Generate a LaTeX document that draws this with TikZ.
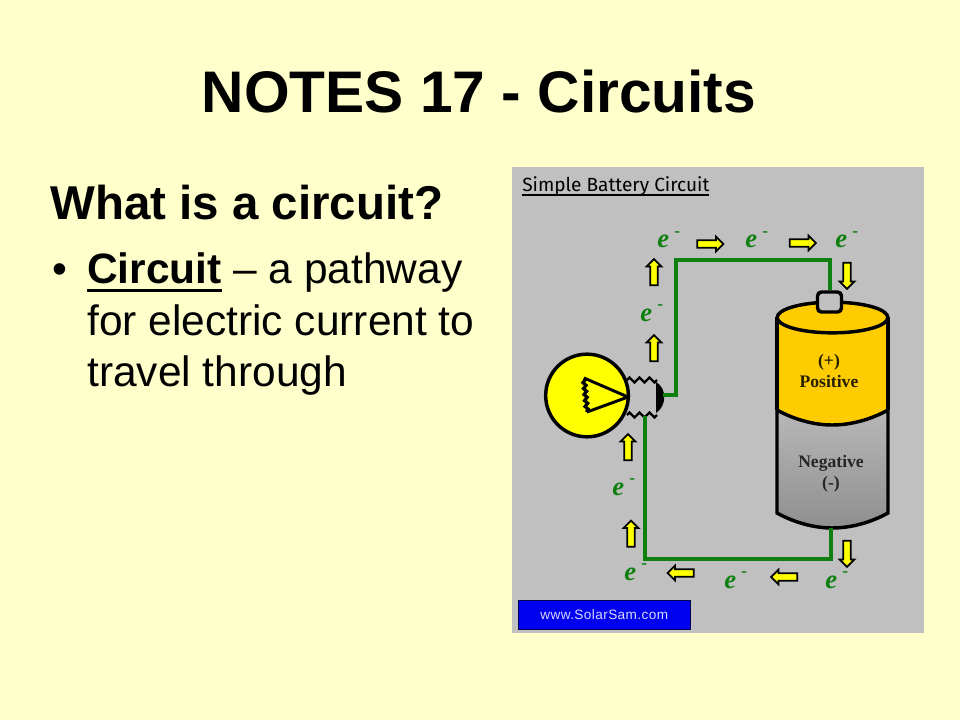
\documentclass[tikz,border=0pt]{standalone}
\usepackage{fontspec}
\setmainfont{Liberation Sans}
\newfontfamily\serifface{Liberation Serif}
\newfontfamily\handface{Fira Sans}
\usetikzlibrary{shapes.arrows,shapes.geometric,decorations.pathmorphing,positioning}
\definecolor{slideColor}{HTML}{FFFFCC}
\definecolor{panelColor}{HTML}{C0C0C0}
\definecolor{wireColor}{HTML}{0F7F0F}
\definecolor{goldColor}{HTML}{FFCC00}
\definecolor{lampColor}{HTML}{FFFF00}
\definecolor{siteColor}{HTML}{0000F0}
\newcommand{\elec}{\textbf{\textit{e}}\hspace{4pt}\raisebox{9pt}{\fontsize{13}{13}\selectfont\textbf{-}}}
\newcommand{\thickul}[3]{\setbox0\hbox{#3}\rlap{\rule[#1]{\wd0}{#2}}\box0}
\tikzset{
	flow/.style={draw=black, fill=lampColor, line width=1.3pt, single arrow, inner sep=0pt, outer sep=0,
		minimum height=19.5pt, minimum width=10pt, text width=4.2pt, text height=4.2pt, text depth=0pt,
		single arrow head extend=2.8pt, single arrow head indent=0pt, shape border rotate=#1},
	flow/.default=0,
	elabel/.style={text=wireColor, font=\serifface\fontsize{20}{20}\selectfont, inner sep=0, anchor=base west},
	wire/.style={draw=wireColor, line width=3pt, line join=miter},
	blk/.style={draw=black, line width=2.6pt},
	linetext/.style={anchor=base west, inner sep=0, font=\fontsize{31.85}{32}\selectfont},
	battlabel/.style={align=center, font=\serifface\bfseries\fontsize{13.2}{16}\selectfont, inner sep=0},
	thread/.style={draw=black, line width=1.8pt, decorate,
		decoration={zigzag, segment length=7.5pt, amplitude=1.8pt}}
}
\begin{document}
\begin{tikzpicture}[x=0.75pt,y=-0.75pt]
	\useasboundingbox[fill=slideColor] (0,0) rectangle (960,720);
	\node[anchor=base, inner sep=0, font=\fontsize{44}{44}\selectfont\bfseries] (title) at (479,113) {NOTES 17 - Circuits};
	\node[linetext, font=\fontsize{35.6}{36}\selectfont\bfseries] (question) at (50,220) {What is a circuit?};
	\node[linetext] (bullet) at (52,284) {•};
	\node[linetext] (line1) at (87,284) {\thickul{-6pt}{2.4pt}{\textbf{Circuit}}~– a pathway};
	\node[linetext] (line2) at (87,335) {for electric current to};
	\node[linetext] (line3) at (87,386) {travel through};
	
	\node[fill=panelColor, minimum width=309pt, minimum height=349.5pt, inner sep=0, anchor=north west] (panel) at (512,167) {};
	\node[anchor=base west, inner sep=0, font=\handface\fontsize{14.3}{15}\selectfont] (paneltitle) at (522,192) {\thickul{-2.8pt}{1.2pt}{Simple Battery Circuit}};
	\node[draw=black!70!blue, fill=siteColor, minimum width=129pt, minimum height=21.8pt, inner sep=0, anchor=north west,
		text=white!85!blue, font=\fontsize{10.2}{11}\selectfont] (site) at (518,600) {\addfontfeature{LetterSpace=3}www.SolarSam.com};
	
	% battery
	\fill[goldColor] (777,317) -- (777,410) .. controls (795,420) and (815,425) .. (832,425) .. controls (850,425) and (870,420) .. (888,410) -- (888,317) -- cycle;
	\draw[blk, top color=black!28, bottom color=black!44] (777,410) .. controls (795,420) and (815,425) .. (832,425) .. controls (850,425) and (870,420) .. (888,410) -- (888,513) .. controls (870,523) and (850,528) .. (832,528) .. controls (815,528) and (795,523) .. (777,513) -- cycle;
	\draw[blk] (777,317) -- (777,410) (888,317) -- (888,410);
	\node[blk, ellipse, fill=goldColor, minimum width=83pt, minimum height=23pt, inner sep=0] (batterytop) at (832.5,317.5) {};
	\node[blk, fill=panelColor, rounded corners=3pt, minimum width=18pt, minimum height=15pt, inner sep=0] (cap) at (829.5,302) {};
	\node[battlabel, text=black!85!goldColor] (poslabel) at (829,371) {(+)\\Positive};
	\node[battlabel, text=black!85] (neglabel) at (831,474) {Negative\\(-)};
	
	% bulb
	\node[blk, circle, fill=lampColor, minimum size=62pt, inner sep=0] (bulb) at (587,395.5) {};
	\coordinate (fil1) at (584,378);
	\coordinate (fil2) at (628,397);
	\coordinate (fil3) at (587,412);
	\draw[draw=black, line width=2.2pt, line join=round] (fil3) -- (fil2) -- (fil1);
	\draw[thread, line width=2.4pt, decoration={segment length=4.5pt, amplitude=1.1pt}] (fil1) -- (fil3);
	\coordinate (threadA) at (627,380);
	\coordinate (threadB) at (657,380);
	\coordinate (threadC) at (627,415);
	\coordinate (threadD) at (657,415);
	\draw[thread] (threadA) -- (threadB);
	\draw[thread] (threadC) -- (threadD);
	\fill[black] (656,382) .. controls (667,388) and (667,406) .. (656,413) -- cycle;
	
	% wires
	\coordinate (baseR) at (663,395);
	\coordinate (baseB) at (645,416);
	\coordinate (cornerT) at (676,260);
	\coordinate (cornerB) at (831,559);
	\coordinate (battB) at (831,528);
	\draw[wire] (baseR) -| (cornerT) -| (cap.north);
	\draw[wire] (baseB) |- (cornerB) -- (battB);
	
	% electrons
	\node[flow=0] (a1) at (708.5,244) {};
	\node[flow=0] (a2) at (801,243) {};
	\node[flow=270] (a3) at (847,274) {};
	\node[flow=90] (a4) at (654,274) {};
	\node[flow=90] (a5) at (654,350) {};
	\node[flow=90] (a6) at (628,449) {};
	\node[flow=90] (a7) at (631,535.5) {};
	\node[flow=180] (a8) at (682.5,573) {};
	\node[flow=180] (a9) at (786,577) {};
	\node[flow=270] (a10) at (847,552) {};
	
	\node[elabel] (e1) at (657,248) {\elec};
	\node[elabel] (e2) at (745,248) {\elec};
	\node[elabel] (e3) at (835,248) {\elec};
	\node[elabel] (e4) at (640,321) {\elec};
	\node[elabel] (e5) at (612,495) {\elec};
	\node[elabel] (e6) at (624,580) {\elec};
	\node[elabel] (e7) at (724,588) {\elec};
	\node[elabel] (e8) at (825,588) {\elec};
\end{tikzpicture}
\end{document}
